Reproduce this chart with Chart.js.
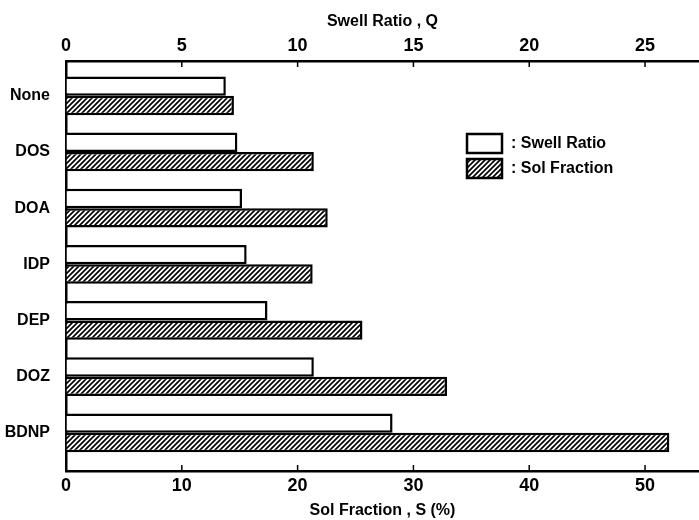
<!DOCTYPE html>
<html>
<head>
<meta charset="utf-8">
<script src="https://cdn.jsdelivr.net/npm/chart.js@4.4.1/dist/chart.umd.min.js"></script>
<style>
  body { margin: 0; background: #fff; }
  #wrap { width: 699px; height: 520px; position: relative; }
</style>
</head>
<body>
<div id="wrap"><canvas id="myChart"></canvas></div>
<script>
// data
const categories = ["None", "DOS", "DOA", "IDP", "DEP", "DOZ", "BDNP"];
const swellRatio = [6.9, 7.4, 7.6, 7.8, 8.7, 10.7, 14.1];      // Q, top axis
const solFraction = [14.5, 21.4, 22.6, 21.3, 25.6, 32.9, 52.1]; // S (%), bottom axis
const qTicks = [0, 5, 10, 15, 20, 25];
const sTicks = [0, 10, 20, 30, 40, 50];

Chart.defaults.font.family = "'Liberation Sans', Arial, sans-serif";
Chart.defaults.font.weight = "bold";
Chart.defaults.color = "#000";

// hatch pattern for the sol fraction bars
function makeHatch() {
    const c = document.createElement("canvas");
    c.width = 5;
    c.height = 5;
    const g = c.getContext("2d");
    g.fillStyle = "#fff";
    g.fillRect(0, 0, 5, 5);
    g.strokeStyle = "#000";
    g.lineWidth = 1.7;
    g.beginPath();
    g.moveTo(-1, 6); g.lineTo(6, -1);
    g.moveTo(-1, 1); g.lineTo(1, -1);
    g.moveTo(4, 6); g.lineTo(6, 4);
    g.stroke();
    return g.createPattern(c, "repeat");
}
const hatch = makeHatch();

// small tick marks pointing into the plot
const innerTicks = {
    id: "innerTicks",
    afterDatasetsDraw(chart) {
        const ctx = chart.ctx;
        ctx.save();
        ctx.strokeStyle = "#000";
        ctx.lineWidth = 1.5;
        [["q", qTicks], ["x", sTicks]].forEach(([id, vals]) => {
            const sc = chart.scales[id];
            vals.forEach(v => {
                if (v === 0) return;
                const px = sc.getPixelForValue(v);
                const y0 = id === "q" ? sc.bottom : sc.top;
                const dir = id === "q" ? 1 : -1;
                ctx.beginPath();
                ctx.moveTo(px, y0);
                ctx.lineTo(px, y0 + dir * 6);
                ctx.stroke();
            });
        });
        ctx.restore();
    }
};

// legend box inside the plot
const boxLegend = {
    id: "boxLegend",
    afterDraw(chart) {
        const ctx = chart.ctx;
        ctx.save();
        ctx.font = "bold 16px 'Liberation Sans', Arial, sans-serif";
        ctx.textBaseline = "middle";
        chart.data.datasets.forEach((ds, i) => {
            const y = 134 + i * 25;
            ctx.fillStyle = ds.backgroundColor;
            ctx.fillRect(467, y, 35, 19);
            ctx.strokeStyle = "#000";
            ctx.lineWidth = 2.5;
            ctx.strokeRect(467, y, 35, 19);
            ctx.fillStyle = "#000";
            ctx.fillText(": " + ds.label, 511, y + 9.5);
        });
        ctx.restore();
    }
};

new Chart("myChart", {
    type: "bar",
    data: {
        datasets: [{
            label: "Swell Ratio",
            data: swellRatio.map((v, i) => ({ x: v, y: i })),
            xAxisID: "q",
            yAxisID: "y",
            backgroundColor: "#fff",
            borderColor: "#000",
            borderWidth: 2.5
        }, {
            label: "Sol Fraction",
            data: solFraction.map((v, i) => ({ x: v, y: i })),
            xAxisID: "x",
            yAxisID: "y",
            backgroundColor: hatch,
            borderColor: "#000",
            borderWidth: 2.5
        }]
    },
    options: {
        indexAxis: "y",
        responsive: true,
        maintainAspectRatio: false,
        animation: false,
        layout: { padding: 0 },
        categoryPercentage: 0.69,
        barPercentage: 1.0,
        plugins: {
            legend: { display: false },
            tooltip: { enabled: false }
        },
        scales: {
            y: {
                type: "linear",
                reverse: true,
                offset: false,
                min: -0.62,
                max: 6.68,
                afterBuildTicks: s => { s.ticks = categories.map((c, i) => ({ value: i })); },
                afterFit: s => { s.width = 66; },
                ticks: {
                    callback: v => categories[v],
                    font: { size: 16, weight: "bold" },
                    padding: 8
                },
                grid: { display: false, offset: false },
                border: { display: true, color: "#000", width: 2.5 }
            },
            q: {
                type: "linear",
                position: "top",
                min: 0,
                max: 27.33,
                afterBuildTicks: s => { s.ticks = qTicks.map(v => ({ value: v })); },
                afterFit: s => { s.height = 61; },
                ticks: { font: { size: 18, weight: "bold" }, padding: 4 },
                grid: { drawOnChartArea: false, drawTicks: false },
                border: { display: true, color: "#000", width: 2.5 },
                title: {
                    display: true,
                    text: "Swell Ratio , Q",
                    font: { size: 16, weight: "bold" },
                    padding: { top: 12, bottom: 0 }
                }
            },
            x: {
                type: "linear",
                position: "bottom",
                min: 0,
                max: 54.66,
                afterBuildTicks: s => { s.ticks = sTicks.map(v => ({ value: v })); },
                afterFit: s => { s.height = 49; },
                ticks: { font: { size: 18, weight: "bold" }, padding: 4 },
                grid: { drawOnChartArea: false, drawTicks: false },
                border: { display: true, color: "#000", width: 2.5 },
                title: {
                    display: true,
                    text: "Sol Fraction , S (%)",
                    font: { size: 16, weight: "bold" },
                    padding: { top: 0, bottom: 0 }
                }
            }
        }
    },
    plugins: [innerTicks, boxLegend]
});
</script>
</body>
</html>
